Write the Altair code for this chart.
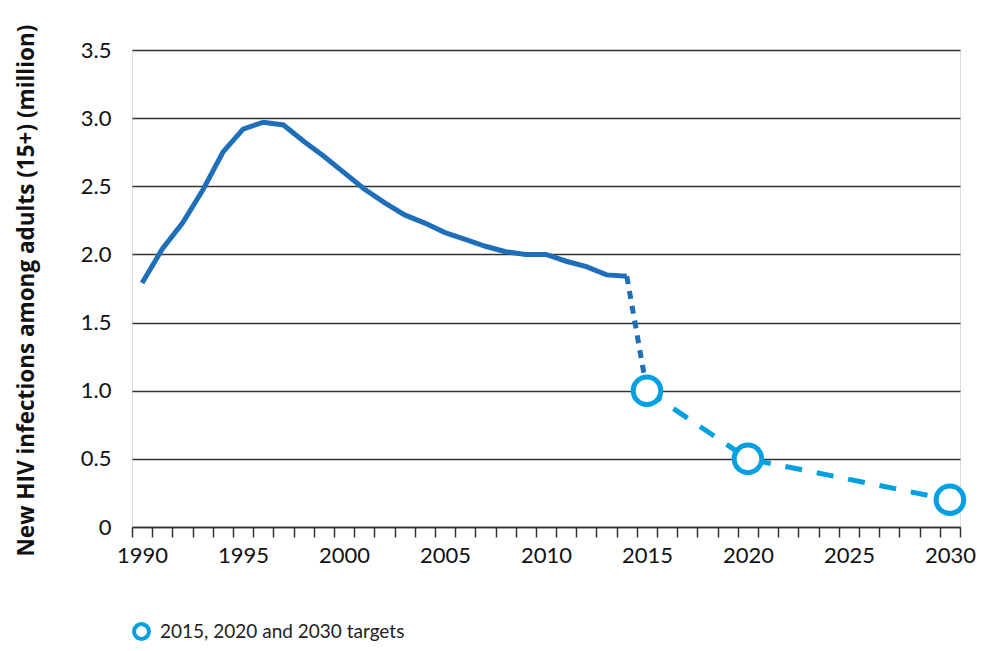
import altair as alt
import pandas as pd

# ---- data ----
hist_years = list(range(1990, 2015))
hist_values = [1.79, 2.04, 2.23, 2.47, 2.75, 2.92, 2.97, 2.95, 2.83, 2.72,
               2.60, 2.48, 2.38, 2.29, 2.23, 2.16, 2.11, 2.06, 2.02, 2.00,
               2.00, 1.95, 1.91, 1.85, 1.84]
target_years = [2015, 2020, 2030]
target_values = [1.0, 0.5, 0.2]
target_label = "2015, 2020 and 2030 targets"
y_ticks = [0, 0.5, 1.0, 1.5, 2.0, 2.5, 3.0, 3.5]
x_first, x_last = 1990, 2030

DARK = "#1e6eb9"
LIGHT = "#00a0e3"
GRID = "#333333"
FONT = "Lato"
TITLE_FONT = "Open Sans"

hist = pd.DataFrame({"year": hist_years, "value": hist_values})
link = pd.DataFrame({"year": [hist_years[-1], target_years[0]],
                     "value": [hist_values[-1], target_values[0]]})
targets = pd.DataFrame({"year": target_years, "value": target_values,
                        "label": [target_label] * len(target_years)})

edges = [x_first - 0.5 + i for i in range(x_last - x_first + 2)]

x_scale = alt.Scale(domain=[x_first - 0.5, x_last + 0.5], nice=False, zero=False)
y_scale = alt.Scale(domain=[0, 3.5], nice=False)

x_axis = alt.Axis(
    values=edges,
    labelExpr="(datum.value + 0.5) % 5 == 0 ? toString(datum.value + 0.5) : ''",
    labelOffset=10.1, labelOverlap=False, labelFlush=False, labelBound=False,
    labelFont=FONT, labelFontSize=22, labelColor="#111111", labelPadding=8,
    tickSize=10, tickColor=GRID, tickWidth=1.5,
    domainColor=GRID, domainWidth=1.5, grid=False, title=None,
)
y_axis = alt.Axis(
    values=y_ticks,
    labelExpr="datum.value == 0 ? '0' : format(datum.value, '.1f')",
    labelFont=FONT, labelFontSize=22, labelColor="#111111", labelPadding=21,
    ticks=False, domain=False, grid=True, gridColor=GRID, gridWidth=1.5,
    title="New HIV infections among adults (15+) (million)",
    titleFont=TITLE_FONT, titleFontSize=22.5, titleFontWeight="bold", titleColor="#111111",
    titleAngle=270, titleX=-99, titleY=240, titleAlign="center",
    titleBaseline="alphabetic",
)

X = lambda: alt.X("year:Q", scale=x_scale, axis=x_axis)
Y = lambda: alt.Y("value:Q", scale=y_scale, axis=y_axis)

hist_line = alt.Chart(hist).mark_line(color=DARK, strokeWidth=5).encode(x=X(), y=Y())
link_line = alt.Chart(link).mark_line(color=DARK, strokeWidth=5, strokeDash=[8, 7]).encode(x=X(), y=Y())
target_line = alt.Chart(targets).mark_line(color=LIGHT, strokeWidth=5, strokeDash=[17, 15]).encode(x=X(), y=Y())
target_pts = alt.Chart(targets).mark_point(
    shape="circle", size=760, strokeWidth=5, fill="white", fillOpacity=1, opacity=1
).encode(
    x=X(), y=Y(),
    stroke=alt.Stroke("label:N", scale=alt.Scale(domain=[target_label], range=[LIGHT]),
                      legend=alt.Legend(
                          title=None, orient="none", legendX=0, legendY=572,
                          symbolType="circle", symbolSize=220, symbolStrokeWidth=4,
                          symbolFillColor="white", symbolStrokeColor=LIGHT,
                          labelFont=FONT, labelFontSize=19, labelColor="#222222",
                          labelOffset=9, padding=0, labelLimit=400,
                      )),
)

chart = alt.layer(hist_line, link_line, target_line, target_pts).properties(
    width=828, height=477,
    autosize=alt.AutoSizeParams(type="none"),
    padding={"left": 124, "top": 42, "right": 21, "bottom": 120},
).configure_view(stroke=None).configure(background="white")

chart.save("out.html", embed_options={"renderer": "svg", "actions": False})
